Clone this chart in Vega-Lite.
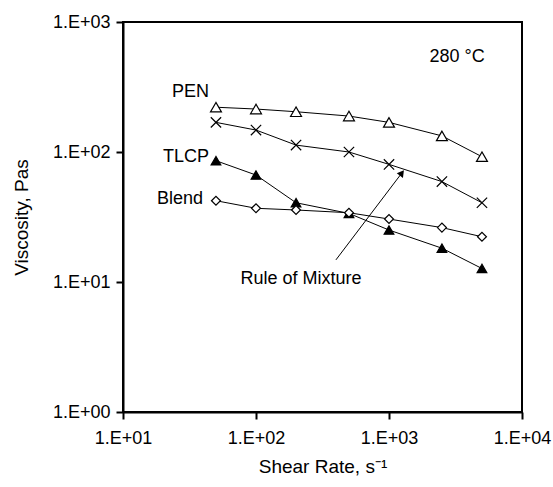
{
  "$schema": "https://vega.github.io/schema/vega-lite/v6.json",
  "autosize": {"type": "none"},
  "padding": {"left": 123, "top": 22, "right": 31, "bottom": 75},
  "width": 399,
  "height": 390,
  "background": "white",
  "config": {
    "font": "Liberation Sans",
    "view": {"stroke": "black", "strokeWidth": 2},
    "axis": {
      "domainColor": "black", "domainWidth": 2,
      "tickColor": "black", "tickWidth": 2, "tickSize": 7,
      "labelColor": "black", "labelFont": "Liberation Sans", "labelFontSize": 18,
      "titleColor": "black", "titleFont": "Liberation Sans", "titleFontSize": 19, "titleFontWeight": "normal",
      "grid": false
    }
  },
  "datasets": {
    "series": [
      {"series": "PEN", "x": 50, "y": 221},
      {"series": "PEN", "x": 100, "y": 214},
      {"series": "PEN", "x": 200, "y": 204},
      {"series": "PEN", "x": 500, "y": 189},
      {"series": "PEN", "x": 1000, "y": 169},
      {"series": "PEN", "x": 2500, "y": 133},
      {"series": "PEN", "x": 5000, "y": 92},
      {"series": "Mixture", "x": 50, "y": 169},
      {"series": "Mixture", "x": 100, "y": 147.5},
      {"series": "Mixture", "x": 200, "y": 113},
      {"series": "Mixture", "x": 500, "y": 100},
      {"series": "Mixture", "x": 1000, "y": 80.3},
      {"series": "Mixture", "x": 2500, "y": 59.2},
      {"series": "Mixture", "x": 5000, "y": 40.7},
      {"series": "TLCP", "x": 50, "y": 85.7},
      {"series": "TLCP", "x": 100, "y": 66.5},
      {"series": "TLCP", "x": 200, "y": 40.7},
      {"series": "TLCP", "x": 500, "y": 33.7},
      {"series": "TLCP", "x": 1000, "y": 25.1},
      {"series": "TLCP", "x": 2500, "y": 18.2},
      {"series": "TLCP", "x": 5000, "y": 12.7},
      {"series": "Blend", "x": 50, "y": 42.2},
      {"series": "Blend", "x": 100, "y": 36.9},
      {"series": "Blend", "x": 200, "y": 35.8},
      {"series": "Blend", "x": 500, "y": 34.1},
      {"series": "Blend", "x": 1000, "y": 30.5},
      {"series": "Blend", "x": 2500, "y": 26.2},
      {"series": "Blend", "x": 5000, "y": 22.3}
    ]
  },
  "layer": [
    {
      "data": {"name": "series"},
      "mark": {"type": "line", "color": "black", "strokeWidth": 1},
      "encoding": {
        "x": {"field": "x", "type": "quantitative",
          "scale": {"type": "log", "domain": [10, 10000], "nice": false},
          "axis": {"values": [10, 100, 1000, 10000], "labelExpr": "'1.E+0' + round(log(datum.value)/LN10)",
            "title": "Shear Rate, s⁻¹", "labelPadding": 10, "titlePadding": 10, "labelFlush": false}},
        "y": {"field": "y", "type": "quantitative",
          "scale": {"type": "log", "domain": [1, 1000], "nice": false},
          "axis": {"values": [1, 10, 100, 1000], "labelExpr": "'1.E+0' + round(log(datum.value)/LN10)",
            "title": "Viscosity, Pas", "labelPadding": 6, "titleX": -102, "titleY": 195, "titleBaseline": "middle", "labelFlush": false}},
        "detail": {"field": "series"}
      }
    },
    {
      "data": {"name": "series"},
      "mark": {"type": "point", "stroke": "black", "strokeWidth": 1.2, "opacity": 1},
      "encoding": {
        "x": {"field": "x", "type": "quantitative"},
        "y": {"field": "y", "type": "quantitative"},
        "shape": {"field": "series", "type": "nominal", "legend": null,
          "scale": {"domain": ["PEN", "Mixture", "TLCP", "Blend"],
            "range": ["triangle-up", "M-1,-1L1,1M-1,1L1,-1", "triangle-up", "diamond"]}},
        "fill": {"field": "series", "type": "nominal", "legend": null,
          "scale": {"domain": ["PEN", "Mixture", "TLCP", "Blend"], "range": ["white", "white", "black", "white"]}},
        "size": {"field": "series", "type": "nominal", "legend": null,
          "scale": {"domain": ["PEN", "Mixture", "TLCP", "Blend"], "range": [120, 80, 120, 70]}}
      }
    },
    {
      "data": {"values": [{"x": 399, "y": 14.8, "x2": 1250, "y2": 69}]},
      "mark": {"type": "rule", "color": "black", "strokeWidth": 1},
      "encoding": {
        "x": {"field": "x", "type": "quantitative"},
        "y": {"field": "y", "type": "quantitative"},
        "x2": {"field": "x2"},
        "y2": {"field": "y2"}
      }
    },
    {
      "data": {"values": [{"x": 1250, "y": 69}]},
      "mark": {"type": "point", "shape": "triangle-up", "angle": 37, "size": 60, "filled": true, "color": "black", "opacity": 1},
      "encoding": {
        "x": {"field": "x", "type": "quantitative"},
        "y": {"field": "y", "type": "quantitative"}
      }
    },
    {
      "data": {"values": [
        {"label": "PEN", "x": 44.4, "y": 288},
        {"label": "TLCP", "x": 44.4, "y": 91.4},
        {"label": "Blend", "x": 40, "y": 43.3}
      ]},
      "mark": {"type": "text", "align": "right", "baseline": "middle", "fontSize": 18, "font": "Liberation Sans", "color": "black"},
      "encoding": {
        "x": {"field": "x", "type": "quantitative"},
        "y": {"field": "y", "type": "quantitative"},
        "text": {"field": "label"}
      }
    },
    {
      "data": {"values": [
        {"label": "280 °C", "x": 3246, "y": 535},
        {"label": "Rule of Mixture", "x": 218, "y": 10.5}
      ]},
      "mark": {"type": "text", "align": "center", "baseline": "middle", "fontSize": 18, "font": "Liberation Sans", "color": "black"},
      "encoding": {
        "x": {"field": "x", "type": "quantitative"},
        "y": {"field": "y", "type": "quantitative"},
        "text": {"field": "label"}
      }
    }
  ]
}
